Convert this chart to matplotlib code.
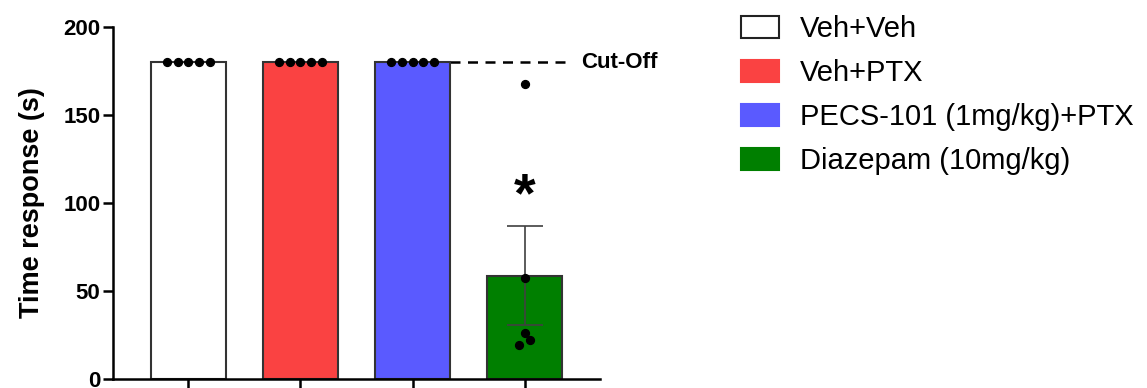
import matplotlib.pyplot as plt
import matplotlib.patches as mpatches
import numpy as np

plt.rcParams["font.family"] = ["Liberation Sans", "DejaVu Sans"]

groups = ["Veh+Veh", "Veh+PTX", "PECS-101 (1mg/kg)+PTX", "Diazepam (10mg/kg)"]
colors = ["white", "#FA4242", "#5A5AFF", "#007F00"]
points = [
    [180, 180, 180, 180, 180],
    [180, 180, 180, 180, 180],
    [180, 180, 180, 180, 180],
    [167.6, 57.4, 26.3, 22.2, 19.3],
]
# horizontal jitter of the dots
jitter = [
    [-0.19, -0.095, 0.0, 0.095, 0.19],
    [-0.19, -0.095, 0.0, 0.095, 0.19],
    [-0.19, -0.095, 0.0, 0.095, 0.19],
    [0.0, 0.0, 0.0, 0.047, -0.05],
]
cutoff = 180

means = [np.mean(p) for p in points]
sems = [np.std(p, ddof=1) / np.sqrt(len(p)) for p in points]

fig = plt.figure(figsize=(11.47, 3.88), dpi=100)
ax = fig.add_axes([113 / 1147, 9 / 388, 487 / 1147, 352 / 388])

x = np.arange(len(groups))
ax.bar(x, means, width=0.67, color=colors, edgecolor="#333333", linewidth=1.5, zorder=2)

# error bar only where there is spread
ax.errorbar(x[3], means[3], yerr=sems[3], fmt="none", ecolor="#404040",
            elinewidth=1.2, capsize=13, capthick=1.2, zorder=3)

for i, p in enumerate(points):
    ax.scatter(x[i] + np.array(jitter[i]), p, s=32, color="black", zorder=4, clip_on=False)

ax.plot([x[2] + 0.335, 3.41], [cutoff, cutoff], color="black", linestyle=(0, (4, 3)),
        linewidth=1.8, zorder=1)
ax.text(3.505, cutoff, "Cut-Off", fontsize=16, fontweight="bold", va="center", ha="left")
ax.text(x[3], 103, "*", fontsize=40, fontweight="bold", ha="center", va="center")

ax.set_xlim(-0.674, 3.674)
ax.set_ylim(0, 200)
ax.set_yticks([0, 50, 100, 150, 200])
ax.set_xticks(x)
ax.set_xticklabels([])
ax.tick_params(axis="x", length=10, width=1.8, direction="out")
ax.tick_params(axis="y", length=7, width=1.8, labelsize=16, pad=2)
for lab in ax.get_yticklabels():
    lab.set_fontweight("bold")
ax.set_ylabel("Time response (s)", fontsize=19.5, fontweight="bold", labelpad=13.5)

for side in ["top", "right"]:
    ax.spines[side].set_visible(False)
for side in ["left", "bottom"]:
    ax.spines[side].set_linewidth(1.8)

handles = [
    mpatches.Patch(facecolor=c, edgecolor="#222222" if c == "white" else c, linewidth=1.5)
    for c in colors
]
fig.legend(handles, groups, loc="upper left", bbox_to_anchor=(741 / 1147, 1 - 15 / 388),
           frameon=False, borderpad=0, borderaxespad=0,
           fontsize=21, handlelength=1.3, handleheight=0.8, handletextpad=0.72,
           labelspacing=0.55)

fig.savefig("out.png", dpi=100)
